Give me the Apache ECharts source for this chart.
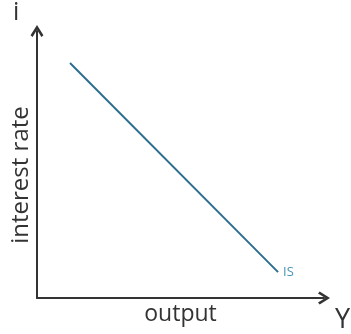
<!DOCTYPE html>
<html>
<head>
<meta charset="utf-8">
<script src="https://cdn.jsdelivr.net/npm/echarts@6/dist/echarts.min.js"></script>
<style>
  html, body { margin: 0; padding: 0; background: #fff; }
  #chart { width: 351px; height: 334px; }
</style>
</head>
<body>
<div id="chart"></div>
<script>
// IS curve: output (x) vs interest rate (y), arbitrary units 0..10
const isOutput = [1.15, 8.40];
const isRate = [8.80, 0.97];
const xLabel = 'output';
const yLabel = 'interest rate';
const curveName = 'IS';

const chart = echarts.init(document.getElementById('chart'));

// open chevron arrow head
const arrowPath = 'path://M0,8 L5,0 L10,8 L8.4,9.3 L5,3.6 L1.6,9.3 Z';
const font = '"Open Sans", sans-serif';

const option = {
    animation: false,
    grid: { left: 37, right: 27, top: 31, bottom: 36, outerBoundsMode: 'none' },
    xAxis: {
        type: 'value',
        min: 0,
        max: 10,
        name: xLabel,
        nameLocation: 'middle',
        nameGap: 5,
        nameTextStyle: { color: '#333', fontSize: 23, fontFamily: font, verticalAlign: 'top' },
        axisLine: {
            lineStyle: { color: '#333', width: 2 },
            symbol: ['none', arrowPath],
            symbolSize: [18, 12]
        },
        axisTick: { show: false },
        axisLabel: { show: false },
        splitLine: { show: false }
    },
    yAxis: {
        type: 'value',
        min: 0,
        max: 10,
        axisLine: {
            lineStyle: { color: '#333', width: 2 },
            symbol: ['none', arrowPath],
            symbolSize: [18, 12]
        },
        axisTick: { show: false },
        axisLabel: { show: false },
        splitLine: { show: false }
    },
    graphic: [
        { type: 'text', left: 13, top: 0, style: { text: 'i', fill: '#333', font: '25px ' + font } },
        { type: 'text', left: 335, top: 307, style: { text: 'Y', fill: '#333', font: '27px ' + font } },
        {
            type: 'text', x: 21, y: 175, rotation: Math.PI / 2,
            style: { text: yLabel, fill: '#333', font: '24px ' + font, align: 'center', verticalAlign: 'middle' }
        }
    ],
    series: [{
        name: curveName,
        type: 'line',
        data: isOutput.map((x, i) => [x, isRate[i]]),
        symbol: 'none',
        lineStyle: { color: '#2d6e8e', width: 2 },
        endLabel: {
            show: true,
            formatter: curveName,
            color: '#4a94b8',
            fontSize: 13,
            fontFamily: font,
            distance: 5
        }
    }]
};

chart.setOption(option);
</script>
</body>
</html>
